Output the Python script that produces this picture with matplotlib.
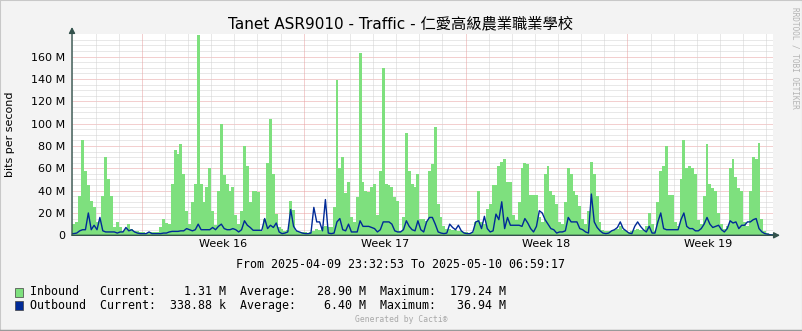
import numpy as np
import matplotlib.pyplot as plt
from matplotlib.patches import Rectangle
from matplotlib.lines import Line2D

# 3-hour bins (Mbit/s) starting 2025-04-10 00:00, one row per day
inbound = [
    10, 12, 35, 85, 58, 45, 31, 25,      # Apr 10
    12, 13, 35, 70, 50, 35, 7, 12,
    7, 4, 6, 10, 6, 4, 4, 3,
    3, 2, 2, 3, 3, 3, 7, 15,
    11, 10, 46, 76, 73, 82, 55, 22,      # Apr 14
    10, 30, 46, 179.24, 46, 30, 43, 60,
    22, 9, 40, 100, 54, 46, 40, 43,
    18, 10, 22, 80, 62, 30, 40, 40,
    39, 4, 15, 65, 104, 55, 19, 7,
    6, 4, 5, 31, 23, 4, 3, 3,
    3, 2, 3, 4, 6, 5, 7, 8,              # Apr 20
    7, 7, 25, 139, 60, 70, 38, 48,
    16, 12, 34, 163, 48, 40, 39, 43,
    46, 18, 58, 150, 46, 45, 43, 34,
    31, 4, 16, 92, 58, 46, 43, 55,
    15, 15, 13, 58, 64, 97, 28, 16,
    8, 6, 6, 5, 5, 4, 4, 3,
    3, 2, 3, 12, 40, 12, 10, 24,         # Apr 27
    28, 45, 45, 62, 66, 68, 48, 48,
    18, 14, 30, 60, 65, 64, 36, 36,
    36, 16, 12, 55, 62, 40, 36, 28,
    12, 10, 30, 60, 55, 40, 36, 26,
    15, 10, 22, 66, 55, 35, 12, 5,
    4, 4, 4, 5, 6, 8, 5, 4,
    3, 4, 5, 6, 5, 5, 8, 20,             # May 4
    10, 4, 30, 58, 62, 80, 36, 36,
    12, 8, 50, 85, 60, 62, 60, 55,
    14, 10, 35, 82, 46, 42, 40, 20,
    10, 6, 8, 60, 68, 52, 42, 40,
    12, 8, 40, 70, 68, 83, 15, 4,
    2, 1.31,                             # May 10
]
outbound = [
    1.5, 2, 4, 5, 5, 20, 5, 9,
    5, 16, 4, 3, 3, 3, 3, 2,
    3, 3, 7, 4, 5, 3, 2, 1.5,
    1.5, 1.5, 3, 1.5, 1.5, 1.5, 1.5, 2,
    2, 3, 3.5, 3.5, 3.5, 4, 4, 6,
    5, 4, 5, 10, 5, 5, 5, 5,
    7, 5, 8, 10, 6, 5, 5, 6,
    5, 3, 5, 13, 9, 7, 4.5, 4.5,
    4.5, 4.5, 15, 6, 9, 7, 11, 3,
    1.5, 2, 3, 23, 8, 4, 3, 2,
    1.5, 1.5, 2, 25, 12, 12, 4, 32,
    2, 1.5, 2, 12, 15, 5, 4, 10,
    3, 3, 3, 13, 8, 8, 8, 7,
    6, 3, 5, 12, 12, 12, 10, 4,
    3, 3, 5, 13, 8, 5, 4, 13,
    5, 3, 12, 16, 16, 10, 3, 2,
    1.5, 2, 10, 7, 5, 9, 4, 2,
    1.5, 1.5, 3, 12, 13, 6, 17, 6,
    3, 4, 19, 14, 30, 6, 16, 9,
    9, 9, 9, 8, 15, 11, 6, 3,
    8, 22, 20, 14, 10, 6, 5, 2,
    3, 3, 4, 16, 12, 12, 12, 6,
    5, 3, 2, 36.94, 12, 7, 4, 2,
    1.5, 2, 4, 5, 7, 12, 6, 4,
    2, 1.5, 8, 12, 8, 5, 3, 8,
    2, 2, 12, 20, 6, 5, 5, 5,
    5, 5, 14, 20, 8, 6, 6, 4,
    4, 6, 10, 16, 10, 7, 8, 9,
    5, 3, 6, 13, 11, 12, 6, 9,
    9, 12, 12, 14, 15, 6, 3, 1.5,
    1, 0.34,
]

week_labels = ["Week 16", "Week 17", "Week 18", "Week 19"]
week_label_hours = [156, 324, 492, 660]      # Wednesday noon
week_start_hours = [72, 240, 408, 576]       # Sunday 00:00
t_start = -(27 + 7 / 60) / 60                # 2025-04-09 23:32:53
t_end = 30 * 24 + 6 + 59 / 60 + 17 / 3600    # 2025-05-10 06:59:17

title = "Tanet ASR9010 - Traffic - 仁愛高級農業職業學校"
legend_rows = [
    ("Inbound   Current:    1.31 M  Average:   28.90 M  Maximum:  179.24 M", "#7EE07E"),
    ("Outbound  Current:  338.88 k  Average:    6.40 M  Maximum:   36.94 M", "#002A97"),
]

W, H = 803, 331
bg = "#F3F3F3"
axis_col = "#33524C"


def px(x, y):
    return x / W, 1 - y / H


fig = plt.figure(figsize=(W / 100, H / 100), dpi=100, facecolor=bg)
L, R, T, B = 72, 773, 34.3, 235.3
ax = fig.add_axes([L / W, 1 - B / H, (R - L) / W, (B - T) / H])
ax.set_facecolor("white")

inb = np.array(inbound) * 1e6
outb = np.array(outbound) * 1e6
n = len(inb)
edges = np.arange(n + 1) * 3.0
edges[0] = t_start
edges[-1] = t_end
centers = (edges[:-1] + edges[1:]) / 2

# grid
for v in np.arange(5e6, 180e6, 5e6):
    major = (round(v / 1e6) % 20 == 0)
    ax.axhline(v, color="#E8A0A0" if major else "#D2D2D2", lw=0.72,
               ls=(0, (1, 1)), zorder=0.5)
for d in np.arange(0, t_end, 24):
    if d in week_start_hours:
        continue
    ax.axvline(d, color="#D2D2D2", lw=0.72, ls=(0, (1, 1)), zorder=0.5)
for d in week_start_hours:
    ax.axvline(d, color="#E8A0A0", lw=0.72, ls=(0, (1, 1)), zorder=0.6)

ax.fill_between(edges, np.append(inb, inb[-1]), step="post",
                color="#7EE07E", lw=0, zorder=1)
ax.plot(np.concatenate([[t_start], centers, [t_end]]),
        np.concatenate([[outb[0]], outb, [outb[-1]]]),
        color="#002A97", lw=1.0, zorder=2)

ax.set_xlim(t_start, t_end)
ax.set_ylim(0, 180e6)
ax.set_yticks(np.arange(0, 161e6, 20e6))
ax.set_yticklabels(["0"] + ["%d M" % v for v in range(20, 161, 20)])
ax.set_xticks(week_label_hours)
ax.set_xticklabels(week_labels)
ax.tick_params(axis="y", length=0, pad=5, labelsize=8)
ax.tick_params(axis="x", length=0, pad=2.5, labelsize=8)
for s in ax.spines.values():
    s.set_visible(False)

# axes with arrows
ax.annotate("", xy=(L, H - 27), xytext=(L, H - B), xycoords="figure pixels",
            arrowprops=dict(arrowstyle="-|>,head_length=0.35,head_width=0.18",
                            color=axis_col, lw=1, shrinkA=0, shrinkB=0))
ax.annotate("", xy=(R + 7, H - B), xytext=(L, H - B), xycoords="figure pixels",
            arrowprops=dict(arrowstyle="-|>,head_length=0.35,head_width=0.18",
                            color=axis_col, lw=1, shrinkA=0, shrinkB=0))

fig.text(*px(401, 23.5), title, ha="center", va="center", fontsize=11,
         family=["DejaVu Sans", "Noto Sans CJK TC"])
fig.text(*px(10, 134), "bits per second", rotation=90, ha="center",
         va="center", fontsize=8)
fig.text(*px(401, 264.5), "From 2025-04-09 23:32:53 To 2025-05-10 06:59:17",
         ha="center", va="center", fontsize=8.4, family="DejaVu Sans Mono")

for i, (txt, col) in enumerate(legend_rows):
    yc = 292 + i * 13.5
    fig.add_artist(Rectangle(px(15, yc + 4.5), 8 / W, 9 / H,
                             transform=fig.transFigure, facecolor=col,
                             edgecolor="#404040", lw=0.5))
    fig.text(*px(30.5, yc), txt, ha="left", va="center", fontsize=8.4,
             family="DejaVu Sans Mono")

fig.text(*px(401.5, 320), "Generated by Cacti®", ha="center", va="center",
         fontsize=5.8, family="DejaVu Sans Mono", color="#A8A8A8")
fig.text(*px(795, 58), "RRDTOOL / TOBI OETIKER", rotation=270, ha="center",
         va="center", fontsize=5.6, family="DejaVu Sans Mono", color="#B4B4B4")

# frame around the image
fig.add_artist(Line2D([0, 0], [0, 1], transform=fig.transFigure, color="#C8C8C8", lw=1.5))
fig.add_artist(Line2D([0, 1], [1, 1], transform=fig.transFigure, color="#C8C8C8", lw=1.5))
fig.add_artist(Line2D([1, 1], [0, 1], transform=fig.transFigure, color="#9A9A9A", lw=1.5))
fig.add_artist(Line2D([0, 1], [0, 0], transform=fig.transFigure, color="#9A9A9A", lw=2.5))

fig.savefig("out.png", dpi=100, facecolor=bg)
